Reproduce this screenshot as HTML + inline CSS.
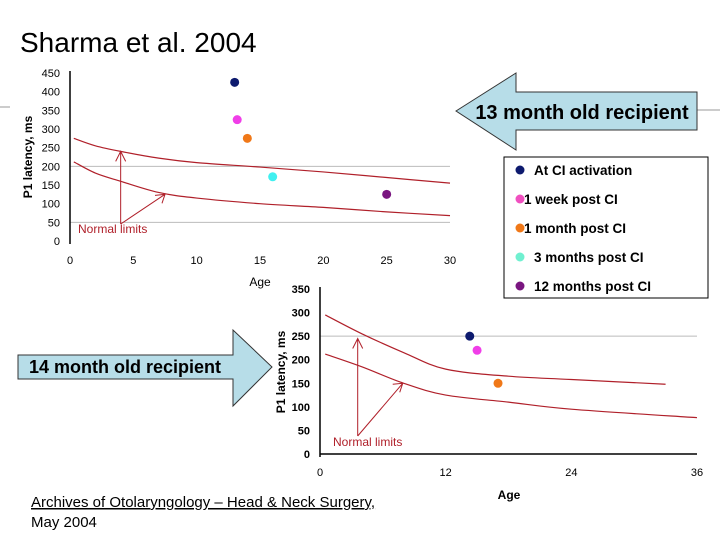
<!DOCTYPE html>
<html><head><meta charset="utf-8"><style>
body{margin:0;background:#fff;width:720px;height:540px;overflow:hidden;font-family:"Liberation Sans",sans-serif;}
svg{display:block}
</style></head><body>
<svg width="720" height="540" viewBox="0 0 720 540" xmlns="http://www.w3.org/2000/svg" font-family="Liberation Sans, sans-serif">
<text x="20" y="52" font-size="28" fill="#000">Sharma et al. 2004</text>
<line x1="0" y1="107" x2="10" y2="107" stroke="#999"/>
<line x1="697" y1="110" x2="720" y2="110" stroke="#999"/>
<g id="c1"></g>
<g id="c2"></g>
<polygon points="456,111 516,73 516,92 697,92 697,130 516,130 516,150" fill="#b7dde8" stroke="#333"/>
<text x="582" y="119" font-size="20" font-weight="bold" text-anchor="middle" fill="#000">13 month old recipient</text>
<polygon points="18,355 233,355 233,330 272,367 233,406 233,379 18,379" fill="#b7dde8" stroke="#333"/>
<text x="125" y="373" font-size="18" font-weight="bold" text-anchor="middle" fill="#000">14 month old recipient</text>
<g>
<rect x="504" y="157" width="204" height="141" fill="#fff" stroke="#000"/>
<g id="leg"></g>
</g>
<text x="31" y="507" font-size="15" text-decoration="underline">Archives of Otolaryngology – Head &amp; Neck Surgery,</text>
<text x="31" y="527" font-size="15">May 2004</text>
</svg>
<script>
const NS='http://www.w3.org/2000/svg';
const seriesNames=['At CI activation','1 week post CI','1 month post CI','3 months post CI','12 months post CI'];
const seriesColors=['#0d1a6e','#f03ee8','#f07818','#40f0f0','#7a1680'];
const legendColors=['#0d1a6e','#f050c0','#f07818','#70f0d0','#7a1680'];
const c1Ages=[13,13.2,14,16,25];
const c1Latency=[425,325,275,172,125];
const c1YTicks=[0,50,100,150,200,250,300,350,400,450];
const c1XTicks=[0,5,10,15,20,25,30];
const c1UpperAge=[0.3,2,4,7,10,15,20,25,30];
const c1UpperVal=[275,255,240,222,210,198,185,170,155];
const c1LowerAge=[0.3,2,4,7,10,15,20,25,30];
const c1LowerVal=[212,182,160,130,115,100,90,78,68];
const c2Ages=[14.3,15,17];
const c2Latency=[250,220,150];
const c2YTicks=[0,50,100,150,200,250,300,350];
const c2XTicks=[0,12,24,36];
const c2UpperAge=[0.5,4,8,12,18,24,33];
const c2UpperVal=[295,255,215,180,165,158,148];
const c2LowerAge=[0.5,4,8,12,18,24,36];
const c2LowerVal=[212,185,150,125,110,95,77];

function el(p,t,a){const e=document.createElementNS(NS,t);for(const k in a)e.setAttribute(k,a[k]);p.appendChild(e);return e;}
function smooth(pts){
  let d='M'+pts[0][0]+','+pts[0][1];
  for(let i=0;i<pts.length-1;i++){
    const p0=pts[Math.max(0,i-1)],p1=pts[i],p2=pts[i+1],p3=pts[Math.min(pts.length-1,i+2)];
    const c1=[p1[0]+(p2[0]-p0[0])/6,p1[1]+(p2[1]-p0[1])/6];
    const c2=[p2[0]-(p3[0]-p1[0])/6,p2[1]-(p3[1]-p1[1])/6];
    d+=` C${c1[0]},${c1[1]} ${c2[0]},${c2[1]} ${p2[0]},${p2[1]}`;
  }
  return d;
}

function chart(g,cfg){
  const X=v=>cfg.x0+(v-cfg.xmin)/(cfg.xmax-cfg.xmin)*(cfg.x1-cfg.x0);
  const Y=v=>cfg.y0-(v/cfg.ymax)*(cfg.y0-cfg.y1);
  cfg.grid.forEach(v=>{const l=el(g,'line',{x1:X(0),x2:X(cfg.xmax),y1:Y(v),y2:Y(v),stroke:'#bbb'});
    
    });
  const ya=el(g,'line',{x1:X(0),x2:X(0),y1:cfg.y1-2,y2:cfg.y0+3,stroke:'#000','stroke-width':1.5});
  
  
  if(cfg.xaxisLine){const xa=el(g,'line',{x1:X(0),x2:X(cfg.xmax),y1:cfg.y0,y2:cfg.y0,stroke:'#000','stroke-width':1.5});
    
    }
  cfg.yt.forEach(v=>{const t=el(g,'text',{x:X(0)-10,y:Y(v)+4,'font-size':11,'text-anchor':'end','font-weight':cfg.bold?'bold':'normal'});t.textContent=v;
    
    });
  cfg.xt.forEach(v=>{const t=el(g,'text',{x:X(v),y:cfg.y0+cfg.xlOff,'font-size':11,'text-anchor':'middle'});t.textContent=v;
    
    });
  [[cfg.ua,cfg.uv],[cfg.la,cfg.lv]].forEach((c,i)=>{
    const pts=c[0].map((a,j)=>[X(a),Y(c[1][j])]);
    const p=el(g,'path',{d:smooth(pts),fill:'none',stroke:'#b0202a','stroke-width':1.2});
    
    });
  const ax=X(cfg.arX), ay=cfg.arBase;
  const ar=el(g,'path',{d:`M${ax},${ay} L${ax},${Y(cfg.arUp)} M${ax-5},${Y(cfg.arUp)+10} L${ax},${Y(cfg.arUp)} L${ax+5},${Y(cfg.arUp)+10} M${ax},${ay} L${X(cfg.arDX)},${Y(cfg.arDY)} M${X(cfg.arDX)-10},${Y(cfg.arDY)+1} L${X(cfg.arDX)},${Y(cfg.arDY)} L${X(cfg.arDX)-3},${Y(cfg.arDY)+9}`,fill:'none',stroke:'#b0202a','stroke-width':1});
  
  
  const nl=el(g,'text',{x:cfg.nlx,y:cfg.nly,'font-size':12,fill:'#b0202a'});nl.textContent='Normal limits';
  
  
  cfg.ages.forEach((a,i)=>{const c=el(g,'circle',{cx:X(a),cy:Y(cfg.lat[i]),r:4.5,fill:seriesColors[i]});
    
    });
  const yt=el(g,'text',{transform:`translate(${cfg.ytx},${cfg.yty}) rotate(-90)`,'font-size':12,'text-anchor':'middle','font-weight':'bold'});yt.textContent='P1 latency, ms';
  
  
  const xt=el(g,'text',{x:cfg.xtx,y:cfg.xty,'font-size':12,'text-anchor':'middle','font-weight':cfg.bold?'bold':'normal'});xt.textContent='Age';
  
  
}
chart(document.getElementById('c1'),{x0:70,x1:450,xmin:0,xmax:30,y0:241,y1:73,ymax:450,grid:[200,50],xaxisLine:false,
  yt:c1YTicks,xt:c1XTicks,xlOff:23,ua:c1UpperAge,uv:c1UpperVal,la:c1LowerAge,lv:c1LowerVal,
  arX:4,arBase:224,arUp:240,arDX:7.5,arDY:125,nlx:78,nly:233,ages:c1Ages,lat:c1Latency,ytx:32,yty:157,xtx:260,xty:286,bold:false});
chart(document.getElementById('c2'),{x0:320,x1:697,xmin:0,xmax:36,y0:454,y1:289,ymax:350,grid:[250],xaxisLine:true,
  yt:c2YTicks,xt:c2XTicks,xlOff:22,ua:c2UpperAge,uv:c2UpperVal,la:c2LowerAge,lv:c2LowerVal,
  arX:3.6,arBase:436,arUp:245,arDX:7.9,arDY:150,nlx:333,nly:446,ages:c2Ages,lat:c2Latency,ytx:285,yty:372,xtx:509,xty:499,bold:true});
const leg=document.getElementById('leg');
seriesNames.forEach((n,i)=>{
  const y=170+i*29, off=(i==1||i==2)?0:10;
  const c=el(leg,'circle',{cx:520,cy:y,r:4.5,fill:legendColors[i]});
  
  
  const t=el(leg,'text',{x:524+off,y:y+5,'font-size':13.5,'font-weight':'bold'});t.textContent=n;
  
  
});
</script>
</body></html>
